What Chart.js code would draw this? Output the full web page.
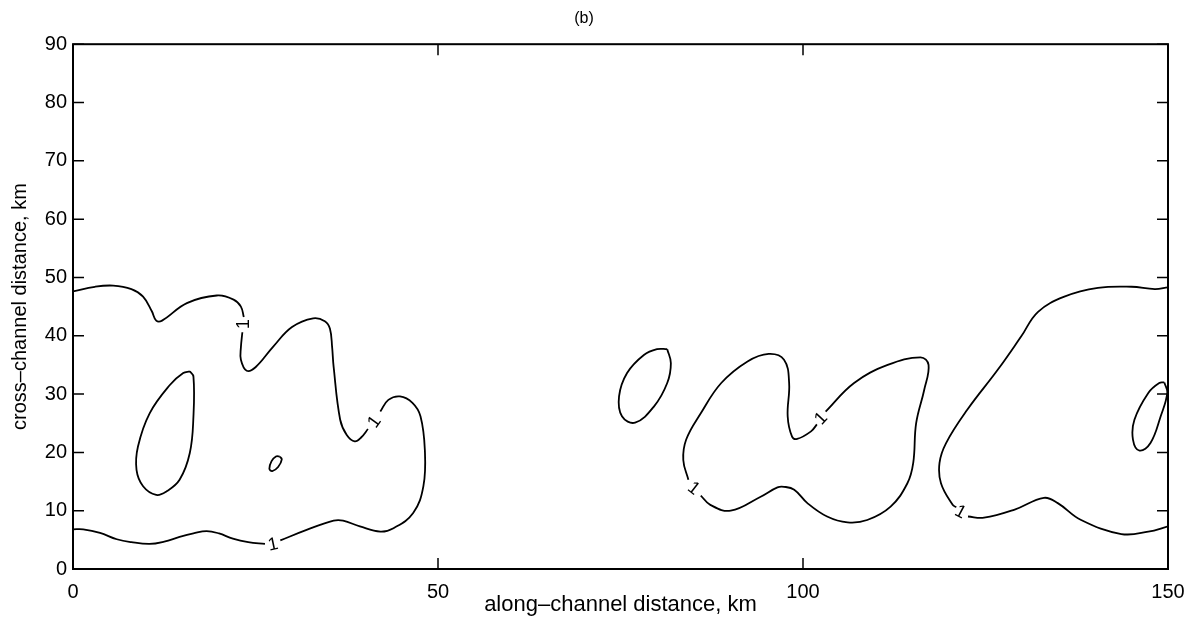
<!DOCTYPE html>
<html>
<head>
<meta charset="utf-8">
<script src="https://cdn.jsdelivr.net/npm/chart.js@4"></script>
<style>
  html, body { margin: 0; padding: 0; background: #fff; }
  #wrap { width: 1197px; height: 629px; }
</style>
</head>
<body>
<div id="wrap"><canvas id="c"></canvas></div>
<script>
// tick values
const xTicks = [0, 50, 100, 150];
const yTicks = [0, 10, 20, 30, 40, 50, 60, 70, 80, 90];

// contour segments, [x km, y km] (broken where a label sits)
const leftTop = [[0,47.6],[3,48.4],[5.5,48.6],[8,48],[9.6,46.7],[10.8,44.2],[11.4,42.6],[12.2,42.6],[15.6,45.6],[19.7,46.9],[22,46.2],[23,45],[23.4,43.2]];
const leftMid = [[23.2,40.6],[23,38],[23,35.9],[23.8,34],[25,34.6],[27.4,38.1],[30,41.5],[32.9,43],[34.5,42.5],[35.2,41.2],[35.5,38],[35.7,34.7],[36.6,25.6],[37.5,23],[38.6,21.9],[39.5,22.6],[40.4,24]];
const leftRight = [[42.1,27],[43.2,29],[44.8,29.6],[46.5,28.5],[47.6,26.2],[48.2,20.4],[48,14.2],[46.6,9.6],[43.9,7],[42.1,6.4],[39.3,7.3],[37,8.3],[35.7,8.3],[32,6.7],[28.4,4.9]];
const leftBottom = [[26.3,4.3],[24,4.6],[21.9,5.2],[20,6.1],[18.3,6.5],[16.5,6.1],[14.6,5.5],[12.5,4.7],[10.5,4.3],[8,4.6],[6,5.1],[3.7,6.2],[1.4,6.8],[0,6.8]];
const loopLeft = [[16,33.9],[16.5,33],[16.5,26.2],[16,19.9],[14.6,15.3],[12.8,13.3],[11.4,12.7],[9.6,14.2],[8.7,17],[8.9,21],[10.5,26.7],[13.3,31.6],[15.1,33.6],[16,33.9]];
const loopTiny = [[28.3,19.3],[28.6,18.8],[28.1,17.5],[27.3,16.8],[26.9,17.2],[27.2,18.5],[27.8,19.3],[28.3,19.3]];
const loopMid = [[81.4,37.7],[81.9,35.3],[81.4,31.9],[79.6,27.9],[77,25.1],[75.2,26.2],[74.8,29.6],[75.9,33.6],[78.2,36.7],[80,37.7],[81.4,37.7]];
const midUpper = [[84.3,15.3],[83.6,18.7],[84,22.2],[86,26.7],[88.8,31.9],[92.4,35.6],[95.3,36.9],[97.4,35.9],[98.1,31.9],[97.9,26.2],[98.5,22.7],[99.2,22.3],[101.1,23.6],[101.9,24.8]];
const midLower = [[103.1,27],[107,31.9],[111.6,35],[116.1,36.3],[117.2,35],[116.6,30.7],[115.5,25],[115.1,18.2],[114.3,14.7],[112,10.7],[108.8,8.4],[106.1,8],[103.3,9],[100.6,11.3],[98.8,13.6],[97.4,14.1],[96.5,14],[94.2,12.4],[90.1,10],[87.3,11],[86,12.6]];
const rightUpper = [[121,10.6],[120.5,11],[118.9,14.7],[118.7,18.2],[119.6,21.6],[122.5,27.3],[126.7,34.2],[129.9,39.9],[132.2,44.1],[135.8,46.7],[140.4,48.2],[145,48.4],[148.2,48],[150,48.3]];
const rightLower = [[122.6,9],[124.8,8.8],[129,10.2],[133,12.2],[134.9,11.3],[138.1,8.4],[143.6,6],[147.3,6.4],[150,7.3]];
const loopRight = [[149.5,32],[149.9,30.2],[149,26.2],[147.6,21.6],[146.1,20.3],[145.2,22.2],[145.4,25.6],[147.3,30.2],[148.8,31.9],[149.5,32]];

// contour labels
const labelText = ['1', '1', '1', '1', '1', '1'];
const labelX = [23.3, 41.2, 27.4, 85.1, 102.4, 121.6];
const labelY = [42.0, 25.3, 4.3, 13.9, 25.9, 9.9];
const labelAngle = [-90, -54, -12, 38, -47, 28];

const segments = [leftTop, leftMid, leftRight, leftBottom, loopLeft, loopTiny, loopMid,
                  midUpper, midLower, rightUpper, rightLower, loopRight];

const FONT = '"Liberation Sans", Arial, Helvetica, sans-serif';

// frame, inward ticks and contour labels
const framePlugin = {
  id: 'frame',
  afterDatasetsDraw(chart) {
    const { ctx, chartArea: a, scales: { x, y } } = chart;
    const tl = 11;
    ctx.save();
    ctx.strokeStyle = '#000';
    ctx.lineWidth = 2;
    ctx.strokeRect(a.left, a.top, a.right - a.left, a.bottom - a.top);
    ctx.lineWidth = 1.5;
    ctx.beginPath();
    xTicks.forEach(v => {
      const px = x.getPixelForValue(v);
      ctx.moveTo(px, a.bottom); ctx.lineTo(px, a.bottom - tl);
      ctx.moveTo(px, a.top); ctx.lineTo(px, a.top + tl);
    });
    yTicks.forEach(v => {
      const py = y.getPixelForValue(v);
      ctx.moveTo(a.left, py); ctx.lineTo(a.left + tl, py);
      ctx.moveTo(a.right, py); ctx.lineTo(a.right - tl, py);
    });
    ctx.stroke();

    ctx.fillStyle = '#000';
    ctx.font = '18px ' + FONT;
    ctx.textAlign = 'center';
    ctx.textBaseline = 'middle';
    labelText.forEach((t, i) => {
      ctx.save();
      ctx.translate(x.getPixelForValue(labelX[i]), y.getPixelForValue(labelY[i]));
      ctx.rotate(labelAngle[i] * Math.PI / 180);
      ctx.fillText(t, 0, 1);
      ctx.restore();
    });
    ctx.restore();
  }
};

new Chart(document.getElementById('c'), {
  type: 'scatter',
  data: {
    datasets: segments.map(s => ({
      data: s.map(p => ({ x: p[0], y: p[1] })),
      showLine: true,
      borderColor: '#000',
      borderWidth: 1.8,
      pointRadius: 0,
      tension: 0.4,
      fill: false
    }))
  },
  options: {
    responsive: true,
    maintainAspectRatio: false,
    animation: false,
    layout: { padding: { left: 0, right: 29, top: 0, bottom: 0 } },
    plugins: {
      legend: { display: false },
      tooltip: { enabled: false },
      title: {
        display: true,
        text: '(b)',
        color: '#000',
        font: { family: FONT, size: 16, weight: 'normal' },
        padding: { top: 9, bottom: 16 }
      }
    },
    scales: {
      x: {
        type: 'linear',
        min: 0, max: 150,
        afterBuildTicks: s => { s.ticks = xTicks.map(v => ({ value: v })); },
        afterFit: s => { s.height = 60; },
        grid: { display: false, drawTicks: false },
        border: { display: false },
        ticks: { color: '#000', padding: 11, font: { family: FONT, size: 20 } },
        title: {
          display: true,
          text: 'along\u2013channel distance, km',
          color: '#000',
          font: { family: FONT, size: 22 },
          padding: { top: 0, bottom: 11 }
        }
      },
      y: {
        type: 'linear',
        min: 0, max: 90,
        afterBuildTicks: s => { s.ticks = yTicks.map(v => ({ value: v })); },
        afterFit: s => { s.width = 73; },
        grid: { display: false, drawTicks: false },
        border: { display: false },
        ticks: { color: '#000', padding: 6, font: { family: FONT, size: 20 } },
        title: {
          display: true,
          text: 'cross\u2013channel distance, km',
          color: '#000',
          font: { family: FONT, size: 20 },
          padding: { top: 8, bottom: 0 }
        }
      }
    }
  },
  plugins: [framePlugin]
});
</script>
</body>
</html>
